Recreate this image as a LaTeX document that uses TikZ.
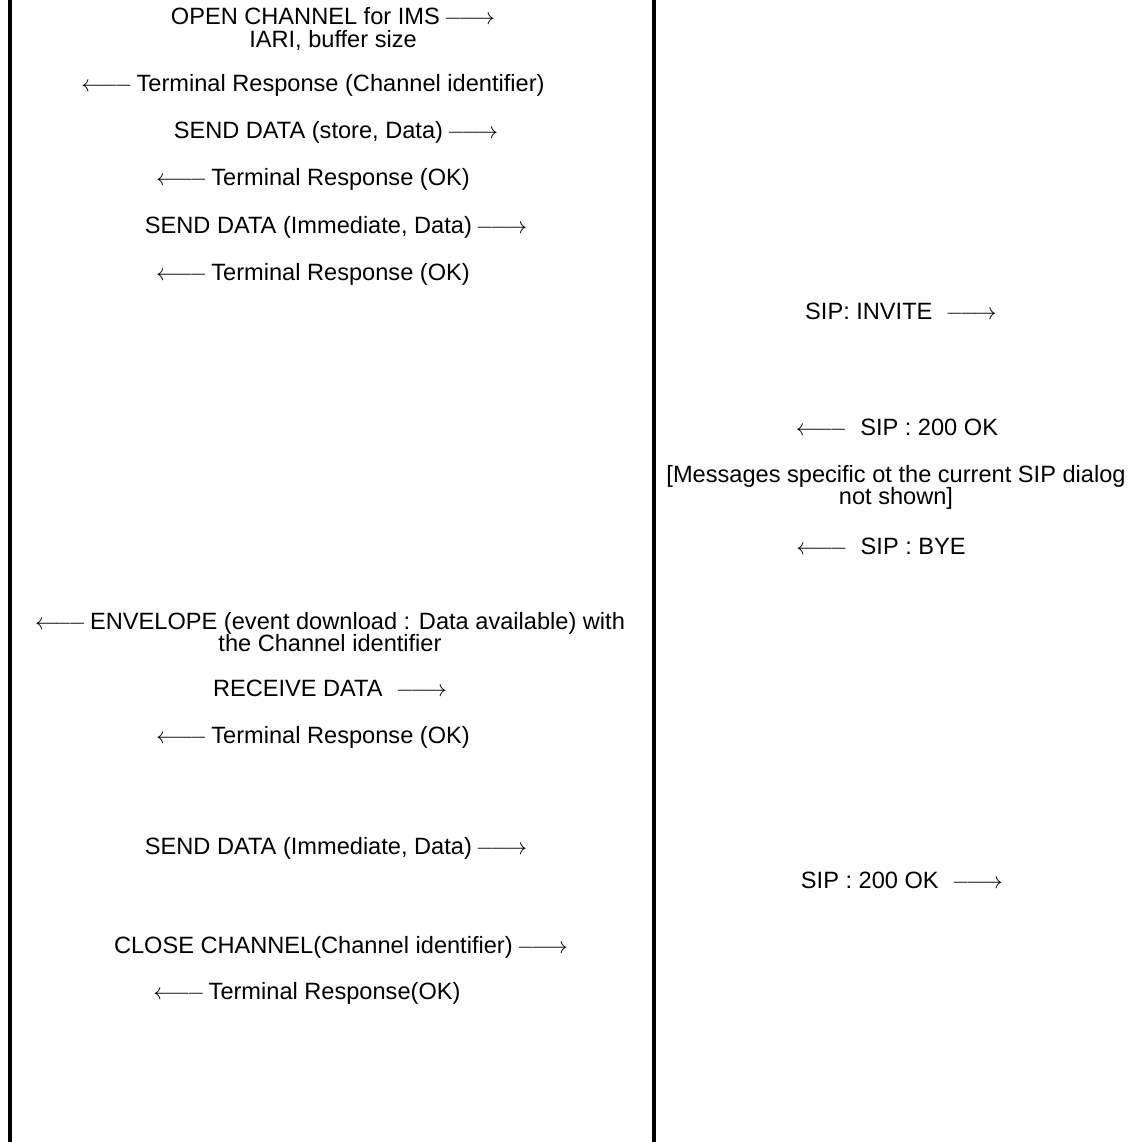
\documentclass[tikz,border=0pt]{standalone}
\usepackage{fontspec}
\setmainfont{Liberation Sans}
\newcommand{\myra}{$\relbar\joinrel\relbar\joinrel\rightarrow$}
\newcommand{\myla}{$\leftarrow\joinrel\relbar\joinrel\relbar$}
\newcommand{\sg}{\hspace{3pt}}
\begin{document}
\begin{tikzpicture}[x=0.75pt,y=-0.75pt,
  msg/.style={inner sep=0pt,align=center,font=\fontsize{17.7}{16.6}\selectfont},
  life/.style={line width=3pt}]
\useasboundingbox (0,0) rectangle (1136,1142);
\coordinate (lt) at (10,0);
\coordinate (lb) at (10,1142);
\coordinate (rt) at (654,0);
\coordinate (rb) at (654,1142);
\draw[life] (lt) -- (lb);
\draw[life] (rt) -- (rb);
\node[msg] (m1) at (333,29) {OPEN CHANNEL for IMS\sg\myra\\IARI, buffer size};
\node[msg] (m2) at (313,85) {\myla\sg Terminal Response (Channel identifier)};
\node[msg] (m3) at (336,132) {SEND DATA (store, Data)\sg\myra};
\node[msg] (m4) at (313,179) {\myla\sg Terminal Response (OK)};
\node[msg] (m5) at (336,227) {SEND DATA (Immediate, Data)\sg\myra};
\node[msg] (m6) at (313,274) {\myla\sg Terminal Response (OK)};
\node[msg] (s1) at (901,311) {SIP: INVITE \ \myra};
\node[msg] (s2) at (897,427) {\myla\ \ SIP : 200 OK};
\node[msg] (s3) at (896,487.5) {[Messages specific ot the current SIP dialog\\not shown]};
\node[msg] (s4) at (881,546) {\myla\ \ SIP : BYE};
\node[msg] (m7) at (330,632) {\myla\sg ENVELOPE (event download : Data available) with\\the Channel identifier};
\node[msg] (m8) at (330,688) {RECEIVE DATA \ \myra};
\node[msg] (m9) at (313,737) {\myla\sg Terminal Response (OK)};
\node[msg] (m10) at (336,848) {SEND DATA (Immediate, Data)\sg\myra};
\node[msg] (s5) at (902,880) {SIP : 200 OK \ \myra};
\node[msg] (m11) at (341,947) {CLOSE CHANNEL(Channel identifier)\sg\myra};
\node[msg] (m12) at (307,993) {\myla\sg Terminal Response(OK)};
\end{tikzpicture}
\end{document}
